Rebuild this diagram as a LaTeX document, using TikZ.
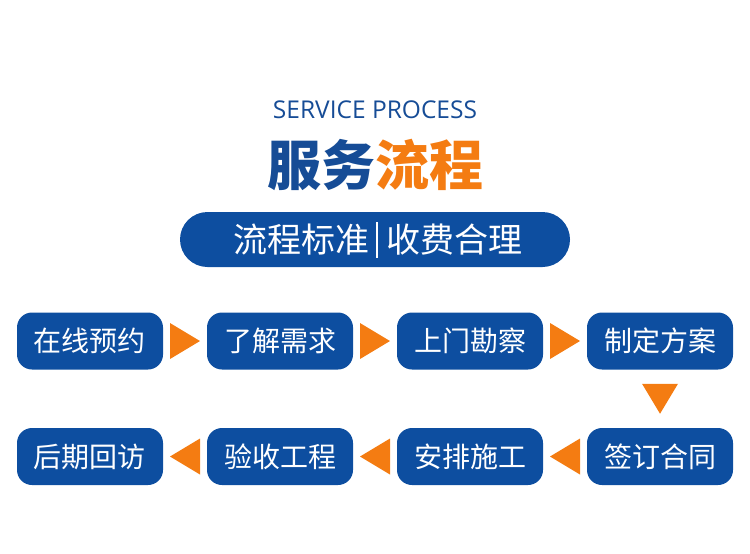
\documentclass[tikz,border=0pt]{standalone}
\usepackage{fontspec}
\usetikzlibrary{calc}
\newfontfamily\cjk{Noto Sans CJK SC}
\newfontfamily\latin{Open Sans}
\definecolor{bblue}{RGB}{13,78,160}
\definecolor{tblue}{RGB}{22,76,150}
\definecolor{orng}{RGB}{244,124,18}
\tikzset{
  stepbox/.style={fill=bblue, rounded corners=15pt, minimum width=146pt, minimum height=57pt, inner sep=0pt, text=white, font=\cjk\fontsize{28}{28}\selectfont},
  tri/.style={fill=orng, draw=none},
  pilltext/.style={text=white, font=\cjk\fontsize{34}{34}\selectfont, inner sep=0pt},
}
\begin{document}
\begin{tikzpicture}[x=1pt,y=-1pt]
\useasboundingbox (0,0) rectangle (750,554);
\node[text=tblue, font=\latin\fontsize{24.5}{24.5}\selectfont] (en) at (375,110) {SERVICE PROCESS};
\node[font=\cjk\fontsize{54}{54}\selectfont\bfseries, inner sep=0pt] (title) at (375,165) {\textcolor{tblue}{服务}\textcolor{orng}{流程}};
\node[fill=bblue, rounded corners=27.5pt, minimum width=390pt, minimum height=55pt, inner sep=0pt] (pill) at (375,239.5) {};
\node[pilltext, anchor=east] (pl) at (370,240) {流程标准};
\node[pilltext, anchor=west] (pr) at (386,240) {收费合理};
\coordinate (sa) at (377,222);
\coordinate (sb) at (377,258);
\draw[white, line width=1.5pt] (sa) -- (sb);

\node[stepbox] (s1) at (90,341) {在线预约};
\node[stepbox] (s2) at (280,341) {了解需求};
\node[stepbox] (s3) at (470,341) {上门勘察};
\node[stepbox] (s4) at (660,341) {制定方案};
\node[stepbox] (s5) at (660,456.5) {签订合同};
\node[stepbox] (s6) at (470,456.5) {安排施工};
\node[stepbox] (s7) at (280,456.5) {验收工程};
\node[stepbox] (s8) at (90,456.5) {后期回访};

% right-pointing triangles
\foreach \a/\b in {s1/s2, s2/s3, s3/s4}{
  \path ($(\a.east)!0.5!(\b.west)$) coordinate (m);
  \fill[tri] ([shift={(-15,-18)}]m) -- ([shift={(15,0)}]m) -- ([shift={(-15,18)}]m) -- cycle;
}
\foreach \a/\b in {s5/s6, s6/s7, s7/s8}{
  \path ($(\a.west)!0.5!(\b.east)$) coordinate (m);
  \fill[tri] ([shift={(15,-18)}]m) -- ([shift={(-15,0)}]m) -- ([shift={(15,18)}]m) -- cycle;
}
\path ($(s4.south)!0.5!(s5.north)$) coordinate (md);
\fill[tri] ([shift={(-18,-15)}]md) -- ([shift={(18,-15)}]md) -- ([shift={(0,15)}]md) -- cycle;
\end{tikzpicture}
\end{document}
